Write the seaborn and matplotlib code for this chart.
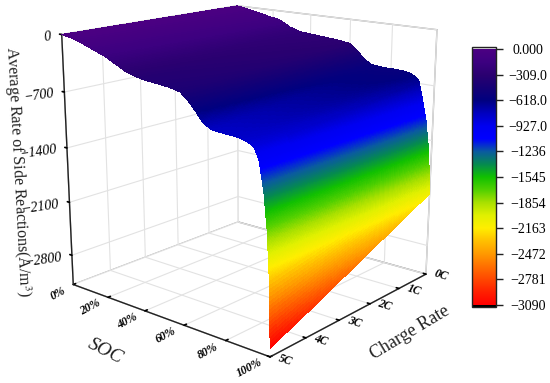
import numpy as np
import matplotlib
matplotlib.use('Agg')
import matplotlib.pyplot as plt
import seaborn as sns
from matplotlib.cm import ScalarMappable
from matplotlib.colors import Normalize

# values: one row per charge rate, one column per SOC
soc = [0, 6, 12, 18, 23, 29, 34, 41, 45, 50, 55, 60, 63.5, 67, 70.5, 74, 77, 80, 84, 87, 90, 93, 95, 97, 98.5, 99.5, 100]
charge = [0, 1, 2, 3, 4, 5]
rate_0c = [0, -30, -60, -95, -115, -200, -245, -262, -270, -282, -295, -315, -390, -490, -545, -560, -565, -565, -568, -575, -600, -665, -900, -1170, -1500, -1850, -2100]
rate_1c = [0, -29, -63, -102, -127, -210, -259, -282, -291, -302, -316, -337, -412, -513, -580, -603, -609, -610, -613, -621, -645, -706, -920, -1200, -1550, -1940, -2300]
rate_2c = [0, -28, -66, -109, -138, -220, -272, -301, -311, -322, -336, -359, -434, -536, -615, -646, -653, -655, -659, -667, -690, -747, -940, -1230, -1600, -2030, -2500]
rate_3c = [0, -27, -69, -116, -150, -230, -286, -321, -332, -342, -357, -381, -456, -559, -650, -689, -697, -700, -704, -713, -735, -788, -960, -1260, -1650, -2120, -2700]
rate_4c = [0, -26, -72, -123, -161, -240, -299, -340, -352, -362, -377, -403, -478, -582, -685, -732, -741, -745, -750, -759, -780, -829, -980, -1290, -1700, -2210, -2900]
rate_5c = [0, -25, -75, -130, -173, -250, -313, -360, -373, -382, -398, -425, -500, -605, -720, -775, -785, -790, -795, -805, -825, -870, -1000, -1320, -1750, -2300, -3090]

soc_ticks = [0, 20, 40, 60, 80, 100]
soc_labels = ['0%', '20%', '40%', '60%', '80%', '100%']
charge_labels = ['0C', '1C', '2C', '3C', '4C', '5C']
z_ticks = [0, -700, -1400, -2100, -2800]
cbar_ticks = [0, -309, -618, -927, -1236, -1545, -1854, -2163, -2472, -2781, -3090]
cbar_labels = ['0.000', '\u2212309.0', '\u2212618.0', '\u2212927.0', '\u22121236', '\u22121545',
               '\u22121854', '\u22122163', '\u22122472', '\u22122781', '\u22123090']
# colour every half colorbar step, from 0 down to -3090
cbar_colors = ['#4b0082', '#3c0080', '#2a0070', '#150075', '#000080', '#0000c0', '#0000f0',
               '#0000ff', '#0a5aa0', '#058a50', '#10c000', '#50d000', '#a8e000', '#e0f000',
               '#ffee00', '#ffc000', '#ff9a00', '#ff7000', '#ff4800', '#ff2000', '#ff0000']

sns.set_theme(style='white')
plt.rcParams['font.family'] = ['Liberation Serif', 'DejaVu Serif']
plt.rcParams['mathtext.fontset'] = 'stix'

W, H = 550, 383
fig = plt.figure(figsize=(W / 100, H / 100), dpi=100)
ax = fig.add_subplot(projection='3d')

ax.view_init(elev=15.76, azim=-49.78)
ax.set_proj_type('persp', focal_length=0.4806)
ax.set_box_aspect((1.01, 1.0, 1.0))

# camera fit gives px per projected unit and where the origin lands
scale, ox, oy = 2339.9, 251.7, 159.5
vl = ax.viewLim
ax.set_position([(ox + scale * vl.x0) / W, (H - oy + scale * vl.y0) / H, scale * vl.width / W, scale * vl.height / H])

cmap = sns.blend_palette(cbar_colors[::-1], n_colors=512, as_cmap=True)
cmap.set_over('#e8e8e8')
cmap.set_under('black')
norm = Normalize(-3090, 0)

rows = np.array([rate_0c, rate_1c, rate_2c, rate_3c, rate_4c, rate_5c], float)

# subdivide each read cell so the colour runs smoothly across it
soc_fine = np.concatenate([np.linspace(0, 93, 280), np.linspace(93, 100, 240)[1:]])
charge_fine = np.linspace(0, 5, 61)
by_soc = np.array([np.interp(soc_fine, soc, r) for r in rows])
zz = np.array([np.interp(charge_fine, charge, by_soc[:, j]) for j in range(len(soc_fine))]).T
xx, yy = np.meshgrid(soc_fine, charge_fine)
ax.plot_surface(xx, yy, zz, cmap=cmap, norm=norm, rcount=zz.shape[0], ccount=zz.shape[1],
                shade=False, antialiased=False, linewidth=0)

ax.set_xlim(0, 100)
ax.set_ylim(5, 0)
ax.set_zlim(-3195, 0)

ax.set_xticks(soc_ticks)
ax.set_xticklabels(soc_labels, fontsize=8.5, style='italic', weight='bold', rotation=28, ha='right', va='center')
ax.set_yticks(charge)
ax.set_yticklabels(charge_labels, fontsize=8.5, style='italic', weight='bold', rotation=-18, ha='left', va='bottom')
ax.set_zticks(z_ticks)
for t in ax.get_zticklabels():
    t.set_fontsize(10)
    t.set_style('italic')
    t.set_rotation(8)
    t.set_color('black')
    t.set_ha('right')
    t.set_va('center_baseline')
ax.zaxis.set_ticks_position('upper')
ax.zaxis.set_label_position('upper')
ax.tick_params(axis='x', pad=-3, colors='black')
ax.tick_params(axis='y', pad=-3, colors='black')
ax.tick_params(axis='z', pad=-4, colors='black')

for axis in (ax.xaxis, ax.yaxis, ax.zaxis):
    axis.set_pane_color((1, 1, 1, 1))
    axis.pane.set_edgecolor('#a8a8a8')
    axis.line.set_color('#222222')
    axis.line.set_linewidth(1.0)
    axis._axinfo['grid']['color'] = '#e2e2e2'
    axis._axinfo['grid']['linewidth'] = 0.8
    axis._axinfo['tick']['inward_factor'] = 0
    axis._axinfo['tick']['outward_factor'] = 0.15
    axis._axinfo['tick']['color'] = '#222222'

# axis titles sit off the axis midpoints here, so place them directly
ax.text2D(105 / W, 1 - 351 / H, 'SOC', transform=fig.transFigure, fontsize=14, style='italic',
          rotation=-27, ha='center', va='center', color='#222222')
ax.text2D(410 / W, 1 - 333 / H, 'Charge Rate', transform=fig.transFigure, fontsize=13,
          rotation=31, ha='center', va='center', color='#222222')
ax.text2D(17 / W, 1 - 172 / H, 'Average Rate of Side Reactions(A/m$^{3}$)', transform=fig.transFigure,
          fontsize=11.5, rotation=-87, ha='center', va='center', color='#222222')

cax = fig.add_axes([472 / W, (H - 307) / H, 24 / W, 260 / H])
cb = fig.colorbar(ScalarMappable(norm=norm, cmap=cmap), cax=cax, extend='both', extendrect=True,
                  extendfrac=0.008, drawedges=False)
cb.set_ticks(cbar_ticks)
cb.set_ticklabels(cbar_labels)
cb.minorticks_off()
cax.tick_params(axis='y', right=True, length=5, width=1, color='#222222', labelsize=10, pad=18, labelcolor='black')
for t in cax.get_yticklabels():
    t.set_ha('center')
cb.outline.set_edgecolor('#222222')
cb.outline.set_linewidth(1)

fig.savefig('out.png', dpi=100)
